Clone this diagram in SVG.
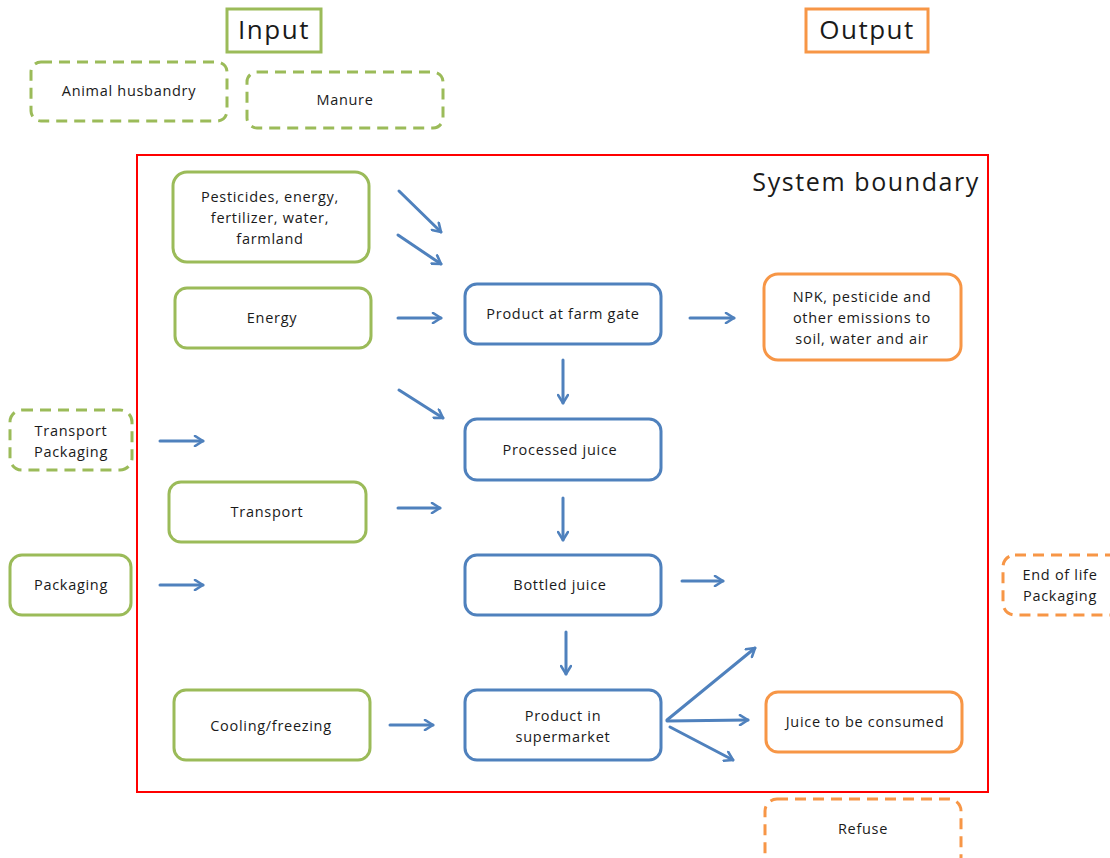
<svg xmlns="http://www.w3.org/2000/svg" width="1110" height="858" viewBox="0 0 1110 858">
<defs>
<marker id="ah" viewBox="0 0 12 12" refX="10" refY="6" markerWidth="12" markerHeight="12" markerUnits="userSpaceOnUse" orient="auto">
<path d="M2,1 L10,6 L2,11" fill="none" stroke="#4F81BD" stroke-width="2.6" stroke-linecap="round" stroke-linejoin="round"/>
</marker>
</defs>
<style>
text{font-family:"Open Sans","Liberation Sans",sans-serif;fill:#1a1a1a;text-anchor:middle;dominant-baseline:central}
.t{font-size:14.5px;letter-spacing:0.7px}
.h{font-size:26px;letter-spacing:1.5px}
.g{fill:#fff;stroke:#9BBB59;stroke-width:3}
.o{fill:#fff;stroke:#F79646;stroke-width:3}
.b{fill:#fff;stroke:#4F81BD;stroke-width:3}
.d{stroke-dasharray:11 7}
#connectors line{stroke:#4F81BD;stroke-width:3;stroke-linecap:round;marker-end:url(#ah)}
</style>
<rect width="1110" height="858" fill="#fff"/>
<g id="boundary">
<rect x="137" y="155" width="851" height="637" fill="none" stroke="#FF0000" stroke-width="2"/>
<text x="980" y="181" style="font-size:25px;letter-spacing:1.6px;text-anchor:end">System boundary</text>
</g>
<g id="input-title"><rect x="227" y="9" width="94" height="43" fill="#fff" stroke="#9BBB59" stroke-width="3"/><text class="h" x="274" y="29">Input</text></g>
<g id="output-title"><rect x="806" y="9" width="122" height="43" fill="#fff" stroke="#F79646" stroke-width="3"/><text class="h" x="867" y="29">Output</text></g>
<g id="animal"><rect class="g d" x="31" y="62" width="196" height="59" rx="10"/><text class="t" x="129" y="90">Animal husbandry</text></g>
<g id="manure"><rect class="g d" x="247" y="72" width="196" height="56" rx="10"/><text class="t" x="345" y="99">Manure</text></g>
<g id="pesticides"><rect class="g" x="173" y="172" width="196" height="90" rx="14"/><text class="t" x="270" y="196">Pesticides,  energy,</text><text class="t" x="270" y="217">fertilizer, water,</text><text class="t" x="270" y="238">farmland</text></g>
<g id="energy"><rect class="g" x="175" y="288" width="196" height="60" rx="12"/><text class="t" x="272" y="317">Energy</text></g>
<g id="farmgate"><rect class="b" x="465" y="284" width="196" height="60" rx="12"/><text class="t" x="563" y="313">Product at farm gate</text></g>
<g id="npk"><rect class="o" x="764" y="274" width="197" height="86" rx="14"/><text class="t" x="862" y="296">NPK, pesticide and</text><text class="t" x="862" y="317">other emissions to</text><text class="t" x="862" y="338">soil, water and air</text></g>
<g id="processed"><rect class="b" x="465" y="419" width="196" height="61" rx="12"/><text class="t" x="560" y="449">Processed juice</text></g>
<g id="transport-packaging"><rect class="g d" x="10" y="410" width="122" height="60" rx="12"/><text class="t" x="71" y="430">Transport</text><text class="t" x="71" y="451">Packaging</text></g>
<g id="transport"><rect class="g" x="169" y="482" width="197" height="60" rx="12"/><text class="t" x="267" y="511">Transport</text></g>
<g id="packaging"><rect class="g" x="10" y="555" width="121" height="60" rx="12"/><text class="t" x="71" y="584">Packaging</text></g>
<g id="bottled"><rect class="b" x="465" y="555" width="196" height="60" rx="12"/><text class="t" x="560" y="584">Bottled juice</text></g>
<g id="eol"><rect class="o d" x="1003" y="555" width="130" height="60" rx="12"/><text class="t" x="1060" y="574">End of life</text><text class="t" x="1060" y="595">Packaging</text></g>
<g id="cooling"><rect class="g" x="174" y="690" width="196" height="70" rx="12"/><text class="t" x="271" y="725">Cooling/freezing</text></g>
<g id="supermarket"><rect class="b" x="465" y="690" width="196" height="70" rx="12"/><text class="t" x="563" y="715">Product in</text><text class="t" x="563" y="736">supermarket</text></g>
<g id="juice"><rect class="o" x="766" y="692" width="196" height="60" rx="12"/><text class="t" x="865" y="721">Juice to be  consumed</text></g>
<g id="refuse"><rect class="o d" x="765" y="799" width="196" height="70" rx="12"/><text class="t" x="863" y="828">Refuse</text></g>
<g id="connectors">
<line x1="399" y1="191" x2="441" y2="232"/>
<line x1="398" y1="235" x2="441" y2="264"/>
<line x1="398" y1="318" x2="441" y2="318"/>
<line x1="690" y1="318" x2="734" y2="318"/>
<line x1="563" y1="360" x2="563" y2="403"/>
<line x1="399" y1="390" x2="443" y2="418"/>
<line x1="160" y1="441" x2="203" y2="441"/>
<line x1="398" y1="508" x2="440" y2="508"/>
<line x1="563" y1="498" x2="563" y2="540"/>
<line x1="160" y1="585" x2="203" y2="585"/>
<line x1="682" y1="581" x2="723" y2="581"/>
<line x1="566" y1="632" x2="566" y2="674"/>
<line x1="390" y1="725" x2="433" y2="725"/>
<line x1="667" y1="720" x2="755" y2="648"/>
<line x1="667" y1="721" x2="748" y2="720"/>
<line x1="670" y1="727" x2="733" y2="760"/>
</g>
</svg>
